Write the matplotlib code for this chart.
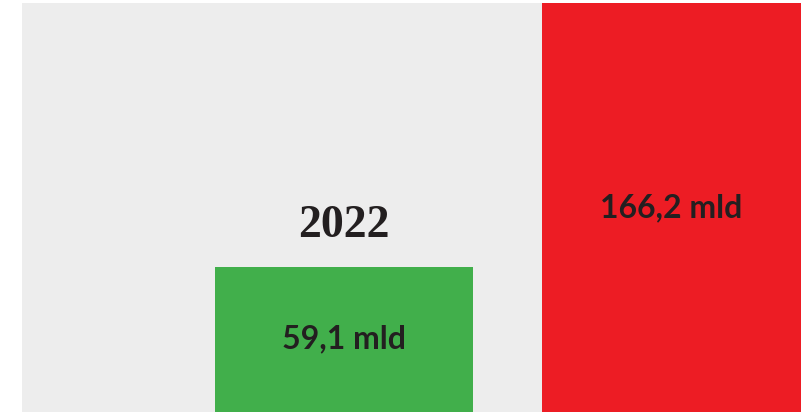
import matplotlib.pyplot as plt

labels = ["59,1 mld", "166,2 mld"]
values = [59.1, 166.2]
colors = ["#41af4b", "#ed1c24"]
year = "2022"

W, H = 804, 420
fig = plt.figure(figsize=(W / 100, H / 100), dpi=100)
ax = fig.add_axes([22 / W, 8 / H, 779 / W, 409 / H])
ax.set_facecolor("#ededed")

x = [0, 1]
ax.bar(x, values, width=0.79, color=colors, linewidth=0)
ax.set_xlim(-0.983, 1.395)
ax.set_ylim(0, 166.2)

for xi, v, lab in zip(x, values, labels):
    ax.text(xi, v / 2, lab, ha="center", va="center", fontsize=23,
            fontweight="bold", family="Lato", color="#231f20")

ax.annotate(year, xy=(0, values[0]), xytext=(0, 29), textcoords="offset points",
            ha="center", va="center", fontsize=33, fontweight="bold",
            family="Liberation Serif", color="#231f20")

ax.set_xticks([]); ax.set_yticks([])
for s in ax.spines.values():
    s.set_visible(False)

fig.savefig("out.png", dpi=100)
